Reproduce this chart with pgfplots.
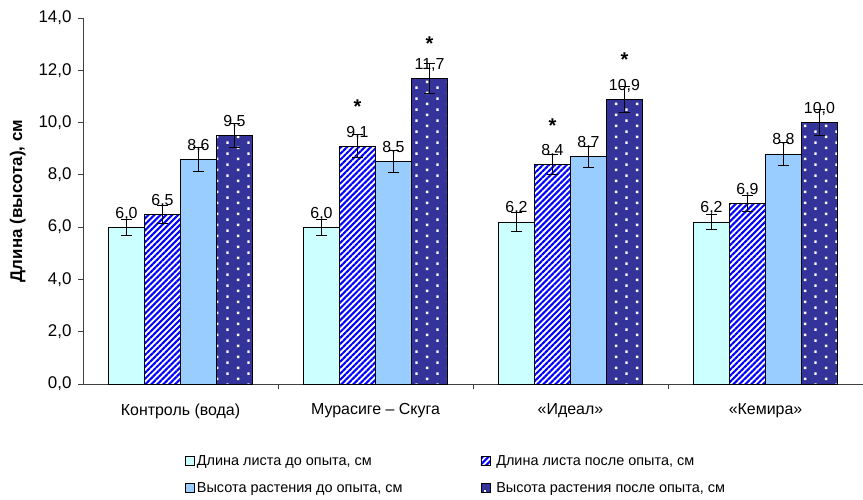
\documentclass[border=0pt]{standalone}
\usepackage{fontspec}
\setmainfont{Liberation Sans}
\usepackage{pgfplots}
\pgfplotsset{compat=1.18}
\usetikzlibrary{patterns,patterns.meta}
\definecolor{c1}{HTML}{CCFFFF}
\definecolor{c2}{HTML}{0000FF}
\definecolor{c3}{HTML}{99CCFF}
\definecolor{c4}{HTML}{333399}
\tikzdeclarepattern{
  name=wdots,
  type=uncolored,
  bounding box={(0bp,0bp) and (21.4bp,10.7bp)},
  tile size={(21.4bp,10.7bp)},
  code={
    \fill (2bp,2bp) rectangle (4.4bp,4.4bp);
    \fill (12.7bp,7.35bp) rectangle (15.1bp,9.75bp);
  }
}
\begin{document}
\begin{tikzpicture}
\useasboundingbox (-83bp,-116bp) rectangle (780bp,384bp);
\begin{axis}[
  at={(0,0)}, anchor=south west,
  scale only axis, width=780bp, height=366bp,
  font=\fontsize{16}{19}\selectfont,
  xmin=-0.5, xmax=3.5, ymin=0, ymax=14,
  axis lines*=left,
  axis line style={black!75, line width=0.8pt},
  ybar=0pt, bar width=36bp,
  xtick={0.5,1.5,2.5}, xticklabels={},
  extra x ticks={0,1,2,3},
  extra x tick labels={Контроль (вода), Мурасиге – Скуга, «Идеал», «Кемира»},
  extra x tick style={major tick length=0pt},
  xticklabel style={yshift=-16bp},
  ytick={0,2,...,14},
  tick align=outside, major tick length=5bp,
  tick style={black!75, line width=0.8pt},
  yticklabel style={font=\fontsize{17}{20}\selectfont, xshift=-3bp, /pgf/number format/.cd, fixed, fixed zerofill, precision=1, use comma, assume math mode=true},
  ylabel={\bfseries Длина (высота), см},
  ylabel style={yshift=6bp, font=\fontsize{17}{20}\selectfont},
  error bars/y dir=both, error bars/y explicit,
  error bars/error bar style={black, line width=0.8pt},
  error bars/error mark options={black, line width=0.8pt, mark size=5.5bp, rotate=90},
  nodes near coords={\pgfmathprintnumber[fixed,fixed zerofill,precision=1,use comma,assume math mode=true]{\pgfplotspointmeta}},
  every node near coord/.append style={anchor=base, yshift=9bp, text=black, font=\fontsize{16}{19}\selectfont, inner sep=0pt},
  legend style={at={(0.127,0)}, anchor=north west, yshift=-67bp, draw=none, fill=none,
    legend columns=2, font=\fontsize{14.5}{17}\selectfont,
    /tikz/every even column/.append style={column sep=76bp},
    row sep=12bp},
  legend image code/.code={\draw[#1] (0bp,-4.5bp) rectangle (9bp,4.5bp);},
  legend cell align=left,
]
\addplot[fill=c1, draw=black, line width=0.7pt] coordinates {
  (0,6.0) +- (0,0.3)
  (1,6.0) +- (0,0.3)
  (2,6.2) +- (0,0.35)
  (3,6.2) +- (0,0.3)
};
\addlegendentry{Длина листа до опыта, см}
\addplot[fill=white, draw=black, line width=0.7pt, postaction={pattern={Lines[angle=45,distance=4.2bp,line width=2.1bp]}, pattern color=c2}] coordinates {
  (0,6.5) +- (0,0.35)
  (1,9.1) +- (0,0.45)
  (2,8.4) +- (0,0.4)
  (3,6.9) +- (0,0.3)
};
\addlegendentry{\hspace{4bp}Длина листа после опыта, см}
\addplot[fill=c3, draw=black, line width=0.7pt] coordinates {
  (0,8.6) +- (0,0.45)
  (1,8.5) +- (0,0.42)
  (2,8.7) +- (0,0.4)
  (3,8.8) +- (0,0.45)
};
\addlegendentry{Высота растения до опыта, см}
\addplot[fill=c4, draw=black, line width=0.7pt, postaction={pattern=wdots, pattern color=white}] coordinates {
  (0,9.5) +- (0,0.45)
  (1,11.7) +- (0,0.57)
  (2,10.9) +- (0,0.5)
  (3,10.0) +- (0,0.5)
};
\addlegendentry{\hspace{4bp}Высота растения после опыта, см}
\node[font=\bfseries\fontsize{20}{20}\selectfont, xshift=-18bp] at (axis cs:1,10.6) {*};
\node[font=\bfseries\fontsize{20}{20}\selectfont, xshift=54bp] at (axis cs:1,13.0) {*};
\node[font=\bfseries\fontsize{20}{20}\selectfont, xshift=-18bp] at (axis cs:2,9.9) {*};
\node[font=\bfseries\fontsize{20}{20}\selectfont, xshift=54bp] at (axis cs:2,12.4) {*};
\end{axis}
\end{tikzpicture}
\end{document}
